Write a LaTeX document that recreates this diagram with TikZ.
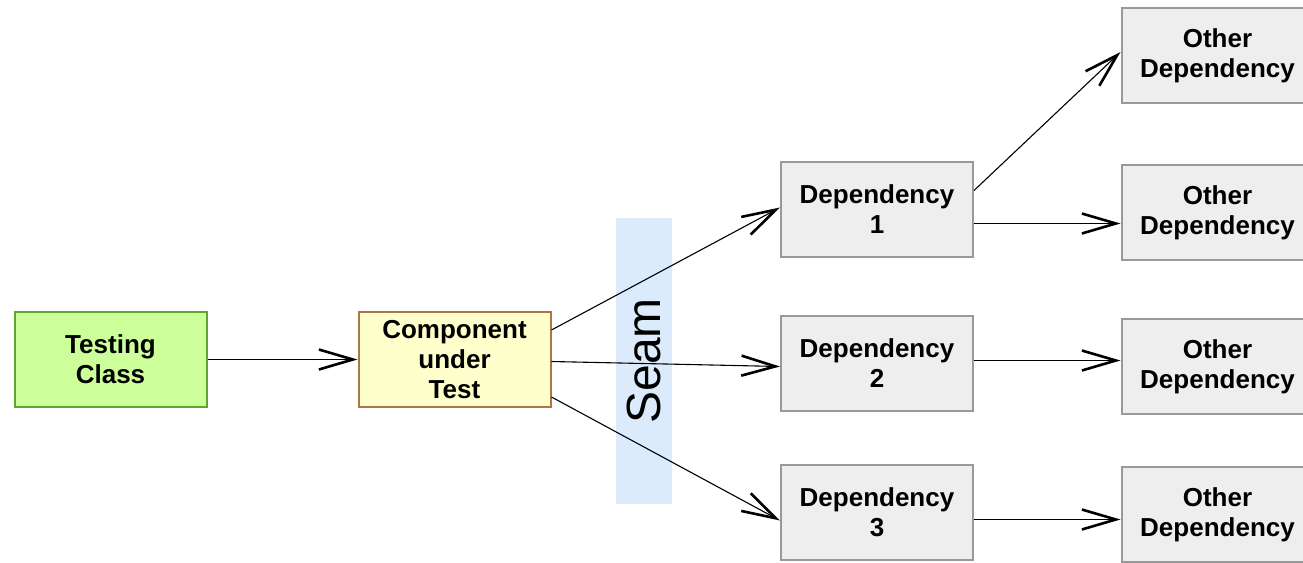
\documentclass[tikz,border=0pt]{standalone}
\usepackage{fontspec}
\setmainfont{Liberation Sans}
\usetikzlibrary{arrows.meta}
\definecolor{testfill}{HTML}{CCFF99}
\definecolor{testline}{HTML}{5FA52E}
\definecolor{cutfill}{HTML}{FFFFCC}
\definecolor{cutline}{HTML}{AA7744}
\definecolor{depfill}{HTML}{EEEEEE}
\definecolor{depline}{HTML}{999999}
\definecolor{seamfill}{HTML}{DCEBFC}
\begin{document}
\begin{tikzpicture}[x=0.5pt,y=-0.5pt,
		box/.style={draw, line width=1pt, minimum width=96pt, minimum height=47.5pt, inner sep=0pt, align=center, font=\fontsize{13}{15}\selectfont\bfseries},
		dep/.style={box, fill=depfill, draw=depline},
		link/.style={line width=0.55pt, -{Straight Barb[length=17pt,width=10pt,line width=1.3pt]}}]
			\useasboundingbox (0,0) rectangle (1303,563);
			% seam
			\fill[seamfill] (616,218) rectangle (672,504);
			\node[rotate=90, font=\fontsize{24}{28}\selectfont] (seam) at (644,361) {Seam};
			% boxes
			\node[box, fill=testfill, draw=testline] (tc) at (110.5,359.5) {Testing\\Class};
			\node[box, fill=cutfill, draw=cutline] (cut) at (454.5,359.5) {Component\\under\\Test};
			\node[dep] (d1) at (877,209.5) {Dependency\\1};
			\node[dep] (d2) at (877,363.5) {Dependency\\2};
			\node[dep] (d3) at (877,512.5) {Dependency\\3};
			\node[dep] (o1) at (1217.5,55.5) {Other\\Dependency};
			\node[dep] (o2) at (1217.5,212.5) {Other\\Dependency};
			\node[dep] (o3) at (1217.5,366.5) {Other\\Dependency};
			\node[dep] (o4) at (1217.5,514.5) {Other\\Dependency};
			% connectors
			\draw[link] (tc) -- (cut);
			\draw[link] ([yshift=14.75pt]cut.east) -- ([yshift=1pt]d1.west);
			\draw[link] ([yshift=-1pt]cut.east) -- ([yshift=-1.5pt]d2.west);
			\draw[link] ([yshift=-18.75pt]cut.east) -- ([yshift=-4pt]d3.west);
			\draw[link] ([yshift=9.5pt]d1.east) -- ([yshift=1.75pt]o1.west);
			\draw[link] ([yshift=-7pt]d1.east) -- ([yshift=-7pt]d1.east -| o2.west);
			\draw[link] ([yshift=1.5pt]d2.east) -- ([yshift=1.5pt]d2.east -| o3.west);
			\draw[link] ([yshift=-3.5pt]d3.east) -- ([yshift=-3.5pt]d3.east -| o4.west);
		\end{tikzpicture}
\end{document}
